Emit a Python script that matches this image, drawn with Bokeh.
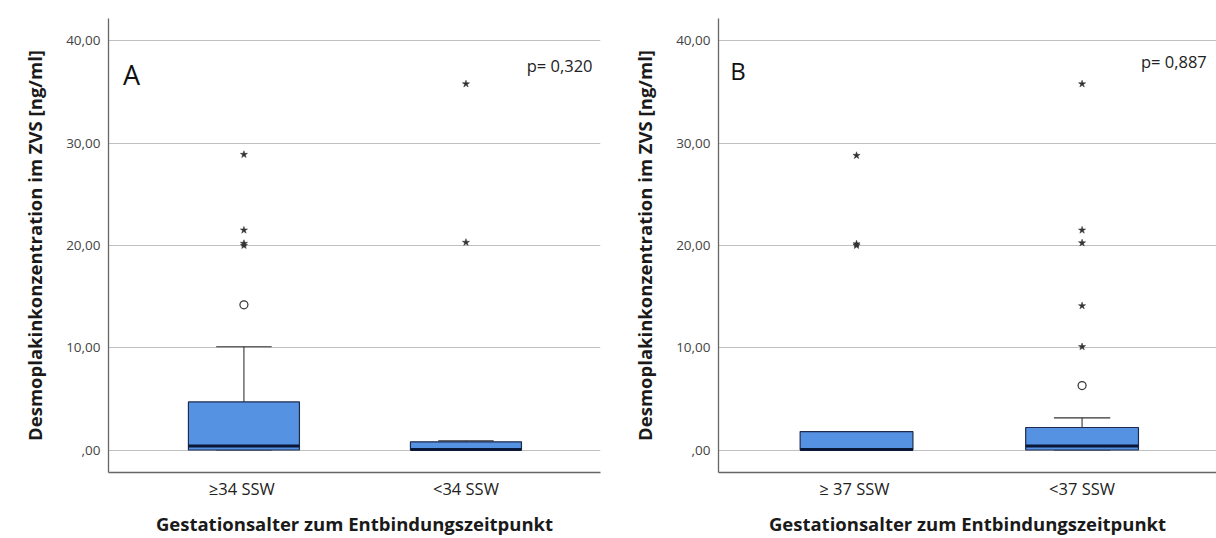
from bokeh.plotting import figure
from bokeh.layouts import row
from bokeh.models import FixedTicker, Label
from bokeh.embed import file_html
from bokeh.resources import INLINE

# ---------------- data ----------------
y_ticks = [0, 10, 20, 30, 40]
y_tick_labels = [",00", "10,00", "20,00", "30,00", "40,00"]

A_groups = ["≥34  SSW", "<34 SSW"]
A_q1 = [0.0, 0.0]
A_median = [0.4, 0.05]
A_q3 = [4.7, 0.8]
A_low = [0.0, 0.0]
A_high = [10.1, 0.9]
A_mild_outliers = [[14.2], []]
A_extreme_outliers = [[20.0, 20.2, 21.5, 28.9], [20.3, 35.8]]
A_pvalue = "p= 0,320"

B_groups = ["≥ 37  SSW", "<37 SSW"]
B_q1 = [0.0, 0.0]
B_median = [0.05, 0.4]
B_q3 = [1.8, 2.2]
B_low = [0.0, 0.0]
B_high = [1.8, 3.15]
B_mild_outliers = [[], [6.3]]
B_extreme_outliers = [[20.0, 20.15, 28.8], [10.1, 14.1, 20.25, 21.5, 35.8]]
B_pvalue = "p= 0,887"

x_title = "Gestationsalter zum Entbindungszeitpunkt"
y_title = "Desmoplakinkonzentration im ZVS [ng/ml]"

BOX_FILL = "#5592E2"
BOX_LINE = "#1E2B4F"
MEDIAN = "#0A1736"
FONT = "Open Sans"


def make_panel(groups, q1, med, q3, low, high, mild, extreme, letter, pval,
               x_range, y_range, borders, letter_pos, letter_size, p_pos):
    left, right, top, bottom = borders
    p = figure(width=608, height=538, x_range=x_range, y_range=y_range,
               output_backend="svg", toolbar_location=None,
               min_border_left=left, min_border_right=right,
               min_border_top=top, min_border_bottom=bottom)
    p.outline_line_color = None
    xs = [i + 1 for i in range(len(groups))]
    bw = 0.5
    cw = 0.25
    # whiskers
    p.segment(x0=xs, y0=q3, x1=xs, y1=high, line_color="#222222", line_width=1)
    p.segment(x0=xs, y0=q1, x1=xs, y1=low, line_color="#222222", line_width=1)
    p.segment(x0=[x - cw / 2 for x in xs], y0=high, x1=[x + cw / 2 for x in xs], y1=high,
              line_color="#333333", line_width=1.2)
    p.segment(x0=[x - cw / 2 for x in xs], y0=low, x1=[x + cw / 2 for x in xs], y1=low,
              line_color="#333333", line_width=1.2)
    # boxes
    p.quad(left=[x - bw / 2 for x in xs], right=[x + bw / 2 for x in xs], bottom=q1, top=q3,
           fill_color=BOX_FILL, line_color=BOX_LINE, line_width=1.2)
    p.segment(x0=[x - bw / 2 for x in xs], y0=med, x1=[x + bw / 2 for x in xs], y1=med,
              line_color=MEDIAN, line_width=3)
    # outliers
    mx, my, ex, ey = [], [], [], []
    for x, m, e in zip(xs, mild, extreme):
        mx += [x] * len(m)
        my += m
        ex += [x] * len(e)
        ey += e
    p.scatter(mx, my, marker="circle", size=8, fill_color="white", line_color="#333333",
              line_width=1.2)
    p.scatter(ex, ey, marker="star", size=7.5, fill_color="#333333", line_color="#333333",
              line_width=0.5)

    # axes
    p.xgrid.visible = False
    p.ygrid.grid_line_color = "#C0C0C0"
    p.ygrid.grid_line_width = 1
    p.ygrid.ticker = FixedTicker(ticks=y_ticks)
    p.yaxis.ticker = FixedTicker(ticks=y_ticks)
    p.yaxis.major_label_overrides = {t: l for t, l in zip(y_ticks, y_tick_labels)}
    p.xaxis.ticker = FixedTicker(ticks=xs)
    p.xaxis.major_label_overrides = {x: g for x, g in zip(xs, groups)}
    for ax in (p.xaxis, p.yaxis):
        ax.major_tick_line_color = None
        ax.minor_tick_line_color = None
        ax.major_tick_out = 0
        ax.major_tick_in = 0
        ax.axis_line_color = "#666666"
        ax.axis_line_width = 1.3
        ax.axis_label_text_font = FONT
        ax.axis_label_text_font_style = "bold"
        ax.axis_label_text_font_size = "18.5px"
        ax.axis_label_text_color = "#1a1a1a"
        ax.major_label_text_font = FONT
    p.yaxis.major_label_text_font_size = "13.5px"
    p.yaxis.major_label_text_color = "#444444"
    p.yaxis.major_label_standoff = 8
    p.yaxis.axis_label = y_title
    p.yaxis.axis_label_standoff = 16
    p.xaxis.major_label_text_font_size = "16.5px"
    p.xaxis.major_label_text_color = "#222222"
    p.xaxis.major_label_standoff = 4
    p.xaxis.axis_label = x_title
    p.xaxis.axis_label_standoff = 8

    p.add_layout(Label(x=letter_pos[0], y=letter_pos[1], text=letter,
                       text_font=FONT, text_font_size=letter_size, text_color="#111111",
                       text_baseline="alphabetic"))
    p.add_layout(Label(x=p_pos[0], y=p_pos[1], text=pval, text_align="right",
                       text_font=FONT, text_font_size="16.5px", text_color="#222222",
                       text_baseline="alphabetic"))
    return p


pA = make_panel(A_groups, A_q1, A_median, A_q3, A_low, A_high, A_mild_outliers,
                A_extreme_outliers, "A", A_pvalue,
                x_range=(0.39, 2.606), y_range=(-2.2, 42.2),
                borders=(108, 8, 18, 64), letter_pos=(0.455, 36.7), letter_size="27px",
                p_pos=(2.57, 37.6))
pB = make_panel(B_groups, B_q1, B_median, B_q3, B_low, B_high, B_mild_outliers,
                B_extreme_outliers, "B", B_pvalue,
                x_range=(0.388, 2.596), y_range=(-2.2, 42.2),
                borders=(110, 0, 18, 64), letter_pos=(0.44, 37.1), letter_size="24px",
                p_pos=(2.553, 38.0))

layout = row(pA, pB)
open("out.html", "w").write(file_html(layout, INLINE))
